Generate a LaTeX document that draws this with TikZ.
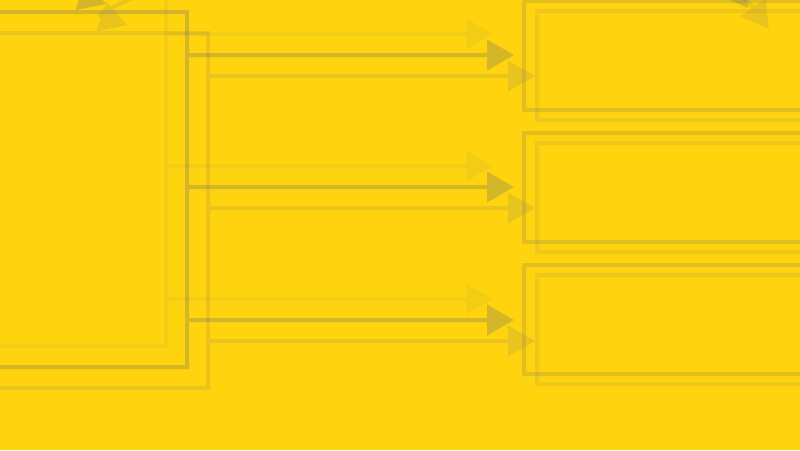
\documentclass[tikz,border=0pt]{standalone}
\usepackage{tikz}
\usetikzlibrary{arrows.meta}
\definecolor{bgyellow}{RGB}{255,212,14}
\definecolor{ink}{RGB}{110,110,110}
\tikzset{%
  box/.style = {rectangle,draw=ink,line width=0.08cm,inner sep=0pt,
        outer sep=0pt},
  flow/.style = {-{Triangle[length=0.54cm,width=0.6cm]},draw=ink,
        line width=0.08cm}
}
\begin{document}
\begin{tikzpicture}[x=0.02cm,y=-0.02cm]
                \useasboundingbox (0,0) rectangle (800,450);
                \fill[bgyellow] (0,0) rectangle (800,450);
                \clip (0,0) rectangle (800,450);
                % three shifted copies of the source box and its arrows
                \foreach \l/\dx/\dy/\op in {A/-21/-21/0.08, B/0/0/0.29, C/21/21/0.15}{
                  \begin{scope}[shift={(\dx,\dy)},transparency group,opacity=\op]
                    \node[box, minimum width=227*0.02cm, minimum height=355*0.02cm] (src\l) at (73.5,189.5) {};
                    \foreach \i/\y in {1/55,2/187,3/320}
                      \coordinate (tip\l\i) at (514,\y);
                    \foreach \i in {1,2,3}
                      \draw[flow] (src\l.east |- tip\l\i) -- (tip\l\i);
                    \coordinate (loopL\l) at (170,-50);
                    \coordinate (inL\l) at (106,4);
                    \coordinate (loopR\l) at (600,-80);
                    \coordinate (inR\l) at (748,8);
                    \draw[flow] (loopL\l) .. controls +(-60,30) and +(-36,-12) .. (inL\l);
                    \draw[flow] (loopR\l) .. controls +(80,20) and +(-28,-38) .. (inR\l);
                  \end{scope}
                }
                % two copies of the target boxes
                \foreach \r/\dx/\dy/\op in {1/0/0/0.20, 2/13/10/0.12}{
                  \begin{scope}[shift={(\dx,\dy)},transparency group,opacity=\op]
                    \foreach \i/\y in {1/55.5,2/187.5,3/319.5}
                      \node[box, anchor=west, minimum width=316*0.02cm, minimum height=109*0.02cm] (dst\r\i) at (524,\y) {};
                  \end{scope}
                }
            \end{tikzpicture}
\end{document}
